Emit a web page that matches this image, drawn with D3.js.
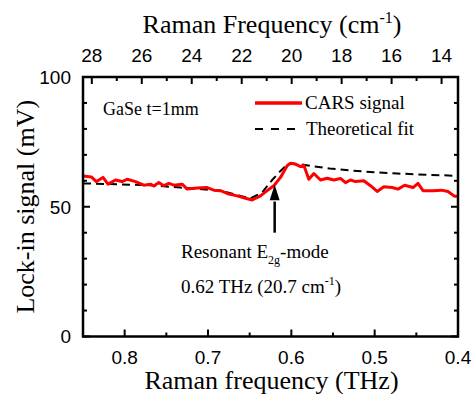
<!DOCTYPE html>
<html>
<head>
<meta charset="utf-8">
<script src="https://cdn.jsdelivr.net/npm/d3@7"></script>
<style>
  body { margin: 0; background: #fff; }
  svg { display: block; }
  .serif { font-family: 'Liberation Serif', 'Times New Roman', serif; fill: #000; }
  .tick-label { font-family: 'Liberation Sans', Arial, sans-serif; font-size: 19px; fill: #000; }
</style>
</head>
<body>
<div id="root"></div>
<script>
// CARS signal (THz, mV)
var carsFreq = [0.850, 0.840, 0.834, 0.826, 0.820, 0.811, 0.803, 0.797, 0.787, 0.777,
  0.769, 0.765, 0.759, 0.753, 0.747, 0.741, 0.731, 0.725, 0.713, 0.701,
  0.693, 0.685, 0.675, 0.665, 0.655, 0.647, 0.637, 0.629, 0.621, 0.613,
  0.605, 0.601, 0.595, 0.589, 0.585, 0.579, 0.573, 0.565, 0.557, 0.549,
  0.541, 0.535, 0.529, 0.523, 0.513, 0.505, 0.497, 0.489, 0.479, 0.472,
  0.464, 0.454, 0.448, 0.442, 0.430, 0.420, 0.412, 0.404, 0.400];
var carsSignal = [61.9, 61.5, 59.7, 61.3, 58.7, 60.3, 59.7, 60.6, 59.7, 58.3,
  58.7, 58.0, 59.3, 58.1, 59.0, 58.3, 58.7, 56.8, 57.2, 57.4,
  56.4, 56.2, 54.9, 54.2, 53.3, 52.6, 54.2, 56.2, 58.1, 61.3,
  65.8, 66.8, 66.4, 65.5, 66.0, 60.6, 62.8, 60.3, 61.0, 60.3,
  60.9, 59.3, 60.3, 59.7, 60.0, 58.1, 55.9, 57.7, 57.4, 56.8,
  58.3, 57.4, 59.0, 56.2, 56.2, 56.4, 55.9, 54.0, 54.0];

// theoretical fit (THz, mV)
var fitFreq = [0.850, 0.769, 0.733, 0.685, 0.661, 0.649, 0.635, 0.623, 0.613, 0.605,
  0.598, 0.586, 0.554, 0.514, 0.473, 0.434, 0.400];
var fitSignal = [59.0, 58.3, 57.4, 56.2, 54.2, 53.3, 55.5, 60.3, 63.8, 66.2,
  66.7, 66.2, 64.7, 63.6, 62.8, 62.3, 61.9];

var xTicksMajor = [0.8, 0.7, 0.6, 0.5, 0.4];
var xTicksMinor = [0.85, 0.75, 0.65, 0.55, 0.45];
var cmTicksMajor = [28, 26, 24, 22, 20, 18, 16, 14];
var cmTicksMinor = [27, 25, 23, 21, 19, 17, 15];
var yTicksMajor = [0, 50, 100];
var yTicksMinor = [10, 20, 30, 40, 60, 70, 80, 90];

var THZ_TO_CM = 33.356;
var resonance = 0.62;

(function () {
  var w = 473, h = 394;
  var pl = 83, pr = 458, pt = 77, pb = 336.5;

  var svg = d3.select('#root')
    .append('svg')
      .attr('width', w)
      .attr('height', h);

  var x = d3.scaleLinear().domain([0.85, 0.4]).range([pl, pr]);
  var xTop = d3.scaleLinear().domain([0.85 * THZ_TO_CM, 0.4 * THZ_TO_CM]).range([pl, pr]);
  var y = d3.scaleLinear().domain([0, 100]).range([pb, pt]);

  var major = 7, minor = 4;

  // ticks, drawn inward on all four sides
  var tickG = svg.append('g')
      .attr('stroke', '#000')
      .attr('stroke-width', 2);

  xTicksMajor.concat(xTicksMinor).forEach(function (v) {
    var len = xTicksMajor.indexOf(v) >= 0 ? major : minor;
    tickG.append('line').attr('x1', x(v)).attr('x2', x(v))
      .attr('y1', pb).attr('y2', pb - len);
  });
  cmTicksMajor.concat(cmTicksMinor).forEach(function (v) {
    var len = cmTicksMajor.indexOf(v) >= 0 ? major : minor;
    tickG.append('line').attr('x1', xTop(v)).attr('x2', xTop(v))
      .attr('y1', pt).attr('y2', pt + len);
  });
  yTicksMajor.concat(yTicksMinor).forEach(function (v) {
    var len = yTicksMajor.indexOf(v) >= 0 ? major : minor;
    tickG.append('line').attr('x1', pl).attr('x2', pl + len)
      .attr('y1', y(v)).attr('y2', y(v));
    tickG.append('line').attr('x1', pr).attr('x2', pr - len)
      .attr('y1', y(v)).attr('y2', y(v));
  });

  svg.selectAll('.xlab')
      .data(xTicksMajor)
    .enter().append('text')
      .attr('class', 'tick-label')
      .attr('x', function (d) { return x(d); })
      .attr('y', 364)
      .attr('text-anchor', 'middle')
      .text(function (d) { return d3.format('.1f')(d); });

  svg.selectAll('.toplab')
      .data(cmTicksMajor)
    .enter().append('text')
      .attr('class', 'tick-label')
      .attr('x', function (d) { return xTop(d); })
      .attr('y', 62)
      .attr('text-anchor', 'middle')
      .text(function (d) { return d; });

  svg.selectAll('.ylab')
      .data(yTicksMajor)
    .enter().append('text')
      .attr('class', 'tick-label')
      .attr('x', 71)
      .attr('y', function (d) { return y(d); })
      .attr('dy', '0.36em')
      .attr('text-anchor', 'end')
      .text(function (d) { return d; });

  // curves
  svg.append('clipPath').attr('id', 'plot-clip')
    .append('rect')
      .attr('x', pl).attr('y', pt)
      .attr('width', pr - pl).attr('height', pb - pt);

  var line = d3.line()
    .x(function (d) { return x(d[0]); })
    .y(function (d) { return y(d[1]); });

  svg.append('path')
      .datum(d3.zip(fitFreq, fitSignal))
      .attr('clip-path', 'url(#plot-clip)')
      .attr('fill', 'none')
      .attr('stroke', '#000')
      .attr('stroke-width', 2)
      .attr('stroke-dasharray', '8,5')
      .attr('d', line);

  svg.append('path')
      .datum(d3.zip(carsFreq, carsSignal))
      .attr('clip-path', 'url(#plot-clip)')
      .attr('fill', 'none')
      .attr('stroke', '#ff0000')
      .attr('stroke-width', 3)
      .attr('stroke-linejoin', 'round')
      .attr('d', line);

  // frame
  svg.append('rect')
      .attr('x', pl).attr('y', pt)
      .attr('width', pr - pl).attr('height', pb - pt)
      .attr('fill', 'none')
      .attr('stroke', '#000')
      .attr('stroke-width', 2.5);

  // arrow at the resonance
  var ax = x(resonance);
  svg.append('line')
      .attr('x1', ax).attr('x2', ax)
      .attr('y1', y(40)).attr('y2', y(52))
      .attr('stroke', '#000')
      .attr('stroke-width', 2.5);
  svg.append('path')
      .attr('d', 'M' + ax + ',' + y(58.5) + 'L' + (ax - 5) + ',' + y(52.5) +
        'L' + (ax + 5) + ',' + y(52.5) + 'Z')
      .attr('fill', '#000');

  // annotation text
  var ann1 = svg.append('text').attr('class', 'serif')
      .attr('x', 181).attr('y', 258).style('font-size', '19px');
  ann1.append('tspan').text('Resonant E');
  ann1.append('tspan').attr('dy', 6).style('font-size', '12px').text('2g');
  ann1.append('tspan').attr('dy', -6).text('-mode');

  var ann2 = svg.append('text').attr('class', 'serif')
      .attr('x', 181).attr('y', 293).style('font-size', '19px');
  ann2.append('tspan').text('0.62 THz (20.7 cm');
  ann2.append('tspan').attr('dy', -8).style('font-size', '12px').text('-1');
  ann2.append('tspan').attr('dy', 8).text(')');

  svg.append('text').attr('class', 'serif')
      .attr('x', 103).attr('y', 115)
      .style('font-size', '18px')
      .text('GaSe t=1mm');

  // legend
  svg.append('line')
      .attr('x1', 255).attr('x2', 302)
      .attr('y1', 103).attr('y2', 103)
      .attr('stroke', '#ff0000')
      .attr('stroke-width', 3.5);
  svg.append('text').attr('class', 'serif')
      .attr('x', 305).attr('y', 109)
      .style('font-size', '19px')
      .text('CARS signal');
  svg.append('line')
      .attr('x1', 255).attr('x2', 302)
      .attr('y1', 129).attr('y2', 129)
      .attr('stroke', '#000')
      .attr('stroke-width', 2)
      .attr('stroke-dasharray', '8,8');
  svg.append('text').attr('class', 'serif')
      .attr('x', 306).attr('y', 135)
      .style('font-size', '19px')
      .text('Theoretical fit');

  // axis titles
  svg.append('text').attr('class', 'serif')
      .attr('x', (pl + pr) / 2 + 1).attr('y', 389)
      .attr('text-anchor', 'middle')
      .style('font-size', '26px')
      .text('Raman frequency (THz)');

  var topTitle = svg.append('text').attr('class', 'serif')
      .attr('x', 272).attr('y', 33)
      .attr('text-anchor', 'middle')
      .style('font-size', '26px');
  topTitle.append('tspan').text('Raman Frequency (cm');
  topTitle.append('tspan').attr('dy', -10).style('font-size', '16px').text('-1');
  topTitle.append('tspan').attr('dy', 10).text(')');

  svg.append('text').attr('class', 'serif')
      .attr('transform', 'translate(34,' + (pt + pb) / 2 + ') rotate(-90)')
      .attr('text-anchor', 'middle')
      .style('font-size', '26px')
      .text('Lock-in signal (mV)');
})();
</script>
</body>
</html>
